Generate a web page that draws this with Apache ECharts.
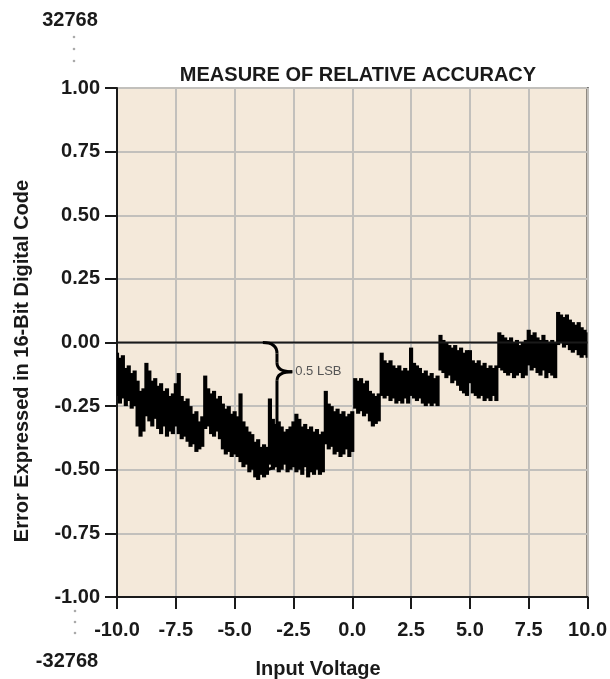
<!DOCTYPE html>
<html>
<head>
<meta charset="utf-8">
<script src="https://cdn.jsdelivr.net/npm/echarts@6/dist/echarts.min.js"></script>
<style>
  html, body { margin: 0; padding: 0; background: #fff; }
  #main { width: 610px; height: 679px; }
</style>
</head>
<body>
<div id="main"></div>
<script>
// input voltage sweep, one sample every 0.125 V
const voltStart = -10;
const voltStep = 0.125;

// top edge of the noisy error trace (LSB)
const errTop = [
  -0.04, -0.06, -0.05, -0.10, -0.09, -0.12, -0.11, -0.15, -0.19, -0.18,
  -0.08, -0.11, -0.15, -0.14, -0.17, -0.16, -0.19, -0.18, -0.21, -0.20,
  -0.16, -0.12, -0.21, -0.23, -0.22, -0.25, -0.28, -0.27, -0.31, -0.29,
  -0.13, -0.18, -0.20, -0.19, -0.22, -0.21, -0.24, -0.26, -0.25, -0.28,
  -0.27, -0.29, -0.20, -0.31, -0.33, -0.35, -0.36, -0.39, -0.38, -0.41,
  -0.40, -0.41, -0.22, -0.30, -0.32, -0.31, -0.33, -0.35, -0.34, -0.33,
  -0.31, -0.28, -0.30, -0.33, -0.32, -0.34, -0.33, -0.35, -0.34, -0.36,
  -0.35, -0.19, -0.24, -0.25, -0.27, -0.26, -0.28, -0.27, -0.29, -0.28,
  -0.27, -0.14, -0.15, -0.14, -0.16, -0.15, -0.19, -0.20, -0.21, -0.20,
  -0.04, -0.07, -0.08, -0.07, -0.09, -0.10, -0.09, -0.11, -0.10, -0.11,
  -0.02, -0.08, -0.09, -0.10, -0.12, -0.11, -0.13, -0.12, -0.14, -0.13,
   0.03,  0.01,  0.00, -0.01, -0.02, -0.01, -0.03, -0.02, -0.04, -0.03,
  -0.03, -0.07, -0.08, -0.07, -0.09, -0.08, -0.10, -0.09, -0.10, -0.09,
   0.04,  0.03,  0.02,  0.01,  0.02,  0.00,  0.01, -0.01,  0.00,  0.01,
   0.05,  0.03,  0.04,  0.02,  0.01,  0.03,  0.01,  0.00,  0.01,  0.00,
   0.12,  0.11,  0.10,  0.11,  0.09,  0.08,  0.07,  0.08,  0.06,  0.05,
   0.04
];

// bottom edge of the noisy error trace (LSB)
const errBottom = [
  -0.21, -0.24, -0.22, -0.25, -0.23, -0.26, -0.25, -0.33, -0.37, -0.35,
  -0.29, -0.31, -0.33, -0.30, -0.34, -0.36, -0.33, -0.37, -0.35, -0.36,
  -0.33, -0.36, -0.38, -0.37, -0.39, -0.41, -0.40, -0.43, -0.42, -0.41,
  -0.34, -0.33, -0.36, -0.37, -0.35, -0.38, -0.42, -0.44, -0.43, -0.45,
  -0.44, -0.45, -0.47, -0.49, -0.48, -0.51, -0.50, -0.53, -0.54, -0.52,
  -0.53, -0.52, -0.48, -0.50, -0.49, -0.51, -0.50, -0.48, -0.51, -0.50,
  -0.49, -0.51, -0.50, -0.52, -0.49, -0.53, -0.51, -0.52, -0.50, -0.52,
  -0.51, -0.40, -0.42, -0.41, -0.44, -0.43, -0.45, -0.44, -0.42, -0.45,
  -0.43, -0.26, -0.28, -0.27, -0.29, -0.28, -0.31, -0.33, -0.32, -0.31,
  -0.21, -0.22, -0.21, -0.23, -0.22, -0.24, -0.23, -0.24, -0.22, -0.24,
  -0.21, -0.22, -0.23, -0.22, -0.24, -0.25, -0.24, -0.25, -0.24, -0.25,
  -0.11, -0.12, -0.14, -0.13, -0.16, -0.15, -0.17, -0.19, -0.20, -0.21,
  -0.16, -0.20, -0.21, -0.22, -0.21, -0.23, -0.22, -0.23, -0.21, -0.23,
  -0.10, -0.11, -0.12, -0.13, -0.12, -0.14, -0.13, -0.12, -0.14, -0.13,
  -0.09, -0.11, -0.10, -0.12, -0.13, -0.11, -0.14, -0.12, -0.13, -0.14,
  -0.01,  0.00, -0.02, -0.01, -0.03, -0.04, -0.03, -0.05, -0.06, -0.05,
  -0.06
];

const xTicks = [-10, -7.5, -5, -2.5, 0, 2.5, 5, 7.5, 10];
const yTicks = [-1, -0.75, -0.5, -0.25, 0, 0.25, 0.5, 0.75, 1];

const ink = '#1a1a1a';
const boldFont = 'Liberation Sans';

const bandData = errTop.map((v, i) => [voltStart + i * voltStep, errBottom[i], v]);
const zeroLine = [[xTicks[0], 0], [xTicks[xTicks.length - 1], 0]];

// one vertical bar per sample, from bottom to top of the noise band
function renderBand(params, api) {
  const x = api.value(0);
  const a = api.coord([x - voltStep / 2, api.value(2)]);
  const b = api.coord([x + voltStep / 2, api.value(1)]);
  const rect = echarts.graphic.clipRectByRect(
    { x: a[0] - 0.6, y: a[1], width: b[0] - a[0] + 1.2, height: b[1] - a[1] },
    params.coordSys
  );
  return rect && { type: 'rect', shape: rect, style: { fill: '#000' } };
}

const chart = echarts.init(document.getElementById('main'));

chart.setOption({
  backgroundColor: '#fff',
  animation: false,
  title: {
    text: 'MEASURE OF RELATIVE ACCURACY',
    left: 353,
    top: 60,
    textAlign: 'center',
    textStyle: { fontFamily: boldFont, fontWeight: 'bold', fontSize: 20, color: ink }
  },
  grid: {
    left: 117,
    right: 21,
    top: 88,
    bottom: 82,
    show: true,
    backgroundColor: '#f4e9da',
    borderColor: ink,
    borderWidth: 2
  },
  xAxis: {
    type: 'value',
    min: xTicks[0],
    max: xTicks[xTicks.length - 1],
    interval: xTicks[1] - xTicks[0],
    axisLine: { onZero: false, lineStyle: { color: ink, width: 2 } },
    axisTick: { length: 12, lineStyle: { color: ink, width: 2 } },
    axisLabel: {
      margin: 23,
      color: ink,
      fontFamily: boldFont,
      fontWeight: 'bold',
      fontSize: 20,
      formatter: v => v.toFixed(1)
    },
    splitLine: { lineStyle: { color: '#c2c0bc', width: 2 } }
  },
  yAxis: {
    type: 'value',
    min: yTicks[0],
    max: yTicks[yTicks.length - 1],
    interval: yTicks[1] - yTicks[0],
    axisLine: { onZero: false, lineStyle: { color: ink, width: 2 } },
    axisTick: { length: 12, lineStyle: { color: ink, width: 2 } },
    axisLabel: {
      margin: 17,
      color: ink,
      fontFamily: boldFont,
      fontWeight: 'bold',
      fontSize: 20,
      padding: [0, 0, 6, 0],
      formatter: v => v.toFixed(2)
    },
    splitLine: { lineStyle: { color: '#c2c0bc', width: 2 } }
  },
  series: [
    {
      type: 'custom',
      data: bandData,
      encode: { x: 0, y: [1, 2] },
      renderItem: renderBand,
      z: 3
    },
    {
      type: 'line',
      data: zeroLine,
      symbol: 'none',
      silent: true,
      lineStyle: { color: ink, width: 2 },
      z: 4
    }
  ]
});

// curly brace marking 0.5 LSB, anchored in data coordinates
const toPx = p => chart.convertToPixel({ gridIndex: 0 }, p);
const tip = toPx([-3.8, 0]);
const mid = toPx([-2.55, -0.115]);
const low = toPx([-3.8, -0.5]);
const sx = toPx([-3.2, 0])[0];

const braceStyle = { stroke: '#000', lineWidth: 3, fill: null };
const curve = (x1, y1, cx, cy, x2, y2) => ({
  type: 'bezierCurve',
  shape: { x1, y1, cpx1: cx, cpy1: cy, x2, y2 },
  style: braceStyle,
  z: 100
});
const seg = (x1, y1, x2, y2) => ({
  type: 'line',
  shape: { x1, y1, x2, y2 },
  style: braceStyle,
  z: 100
});

const boldText = 'bold 20px "Liberation Sans"';
const dot = (cx, cy) => ({ type: 'circle', shape: { cx, cy, r: 1.3 }, style: { fill: '#aaa' } });

chart.setOption({
  graphic: [
    { type: 'text', x: 70, y: 20, style: { text: '32768', font: boldText, fill: ink, align: 'center', verticalAlign: 'middle' } },
    { type: 'text', x: 67, y: 661, style: { text: '-32768', font: boldText, fill: ink, align: 'center', verticalAlign: 'middle' } },
    { type: 'text', x: 318, y: 669, style: { text: 'Input Voltage', font: boldText, fill: ink, align: 'center', verticalAlign: 'middle' } },
    {
      type: 'text', x: 22, y: 361, rotation: Math.PI / 2,
      style: { text: 'Error Expressed in 16-Bit Digital Code', font: boldText, fill: ink, align: 'center', verticalAlign: 'middle' }
    },
    dot(74, 37), dot(74, 49), dot(74, 61),
    dot(75, 611), dot(75, 622), dot(75, 633),
    curve(tip[0], tip[1], sx, tip[1], sx, tip[1] + 11),
    seg(sx, tip[1] + 11, sx, mid[1] - 9),
    curve(sx, mid[1] - 9, sx, mid[1], mid[0], mid[1]),
    curve(mid[0], mid[1], sx, mid[1], sx, mid[1] + 9),
    seg(sx, mid[1] + 9, sx, low[1] - 11),
    curve(sx, low[1] - 11, sx, low[1], low[0], low[1]),
    {
      type: 'text', x: mid[0] + 3, y: mid[1],
      style: { text: '0.5 LSB', font: '13px "Liberation Sans"', fill: '#555', align: 'left', verticalAlign: 'middle' },
      z: 100
    }
  ]
});
</script>
</body>
</html>
